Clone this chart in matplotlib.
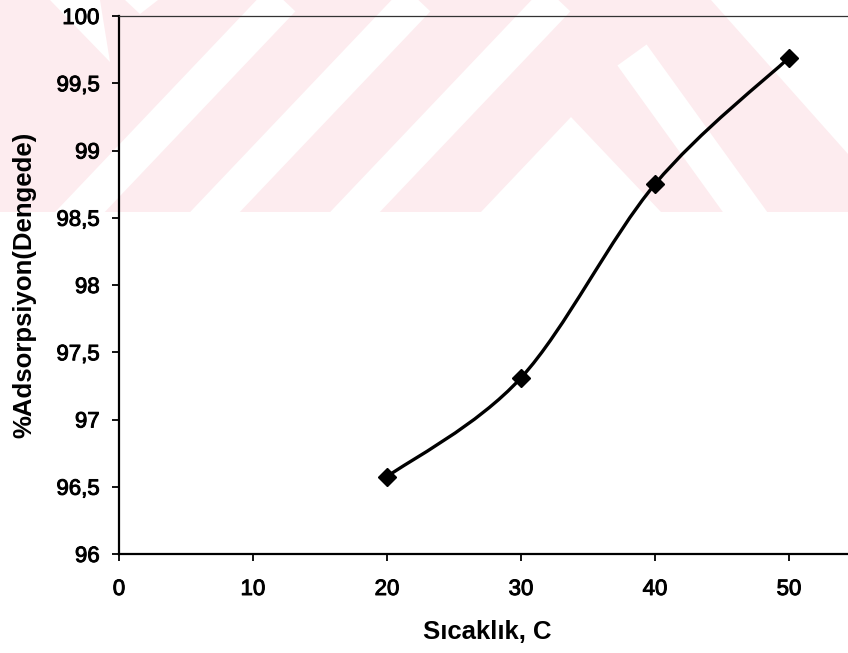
import matplotlib
matplotlib.use('Agg')
import matplotlib.pyplot as plt
import matplotlib.patheffects as pe
from matplotlib.path import Path
from matplotlib.patches import PathPatch, Polygon, Rectangle
from matplotlib.lines import Line2D
import numpy as np

plt.rcParams['font.family'] = ['Liberation Sans', 'DejaVu Sans']

# temperature (C) vs equilibrium adsorption (%)
sicaklik = [20, 30, 40, 50]
adsorpsiyon = [96.575, 97.31, 98.75, 99.69]

x_ticks = [0, 10, 20, 30, 40, 50]
y_ticks = [96, 96.5, 97, 97.5, 98, 98.5, 99, 99.5, 100]
y_tick_labels = ['96', '96,5', '97', '97,5', '98', '98,5', '99', '99,5', '100']

W, H = 848, 653
fig = plt.figure(figsize=(W / 100, H / 100), dpi=100)

def fp(x, y):
  # pixel position (origin top-left) -> figure fraction
  return (x / W, 1 - y / H)

# faint background logo band across the top
band_h = 212
pink = '#fdecef'
band = Rectangle((0, 1 - band_h / H), 1, band_h / H, transform=fig.transFigure,
                 facecolor=pink, edgecolor='none', zorder=-10)
fig.add_artist(band)
clip = Rectangle((0, 1 - band_h / H), 1, band_h / H, transform=fig.transFigure)

stripe_w = 36 * 0.72
def white_line(pts):
  xs = [fp(x, y)[0] for x, y in pts]
  ys = [fp(x, y)[1] for x, y in pts]
  ln = Line2D(xs, ys, transform=fig.transFigure, color='white', lw=stripe_w,
              solid_capstyle='butt', solid_joinstyle='miter', zorder=-9)
  ln.set_clip_path(clip)
  fig.add_artist(ln)

def white_poly(pts):
  p = Polygon([fp(x, y) for x, y in pts], closed=True, transform=fig.transFigure,
              facecolor='white', edgecolor='none', zorder=-9)
  p.set_clip_path(clip)
  fig.add_artist(p)

for bx in [80, 215, 355]:
  white_line([(bx - 0.95 * 50, band_h + 50), (bx + 0.95 * (band_h + 50), -50)])
white_line([(632, 55), (632 + 0.72 * 250, 305)])
white_poly([(571, 117), (481, 212), (661, 212)])
white_poly([(711, 0), (848, 0), (848, 154)])
white_poly([(50, 0), (100, 0), (110, 62)])
white_poly([(125, 0), (158, 0), (140, 14)])

ax = fig.add_axes([119 / W, 1 - 554 / H, (W - 119) / W, 538 / H])
ax.patch.set_facecolor('none')

# smoothed curve through the points (cubic bezier, catmull-rom tangents)
P = np.column_stack([sicaklik, adsorpsiyon]).astype(float)
n = len(P)
ext = np.vstack([P[0], P, P[-1]])
verts = [P[0]]
codes = [Path.MOVETO]
for i in range(n - 1):
  c1 = ext[i + 1] + (ext[i + 2] - ext[i]) / 6
  c2 = ext[i + 2] - (ext[i + 3] - ext[i + 1]) / 6
  verts += [c1, c2, ext[i + 2]]
  codes += [Path.CURVE4] * 3
ax.add_patch(PathPatch(Path(verts, codes), facecolor='none', edgecolor='black',
                       lw=2.4, zorder=2))
ax.plot(sicaklik, adsorpsiyon, 'D', color='black', ms=9, zorder=3)

ax.set_xlim(0, (W - 119) / 13.4)
ax.set_ylim(96, 100)
ax.set_xticks(x_ticks)
ax.set_yticks(y_ticks)
ax.set_yticklabels(y_tick_labels)

ax.spines['right'].set_visible(False)
ax.spines['left'].set_linewidth(1.6)
ax.spines['bottom'].set_linewidth(1.6)
ax.spines['top'].set_linewidth(0.9)
ax.spines['top'].set_color('#333333')
ax.tick_params(axis='y', direction='out', length=5, width=1.3, pad=9, labelsize=16)
ax.tick_params(axis='x', direction='out', length=5, width=1.3, pad=13, labelsize=16)
for lbl in ax.get_xticklabels() + ax.get_yticklabels():
  lbl.set_path_effects([pe.withStroke(linewidth=0.7, foreground='black')])

fig.text(487 / W, 1 - 632 / H, 'Sıcaklık, C', ha='center', va='center',
         fontsize=18.5, fontweight='bold')
fig.text(24 / W, 1 - 285 / H, '%Adsorpsiyon(Dengede)', ha='center', va='center',
         rotation=90, fontsize=18.5, fontweight='bold')

plt.savefig('out.png', dpi=100)
plt.close()
